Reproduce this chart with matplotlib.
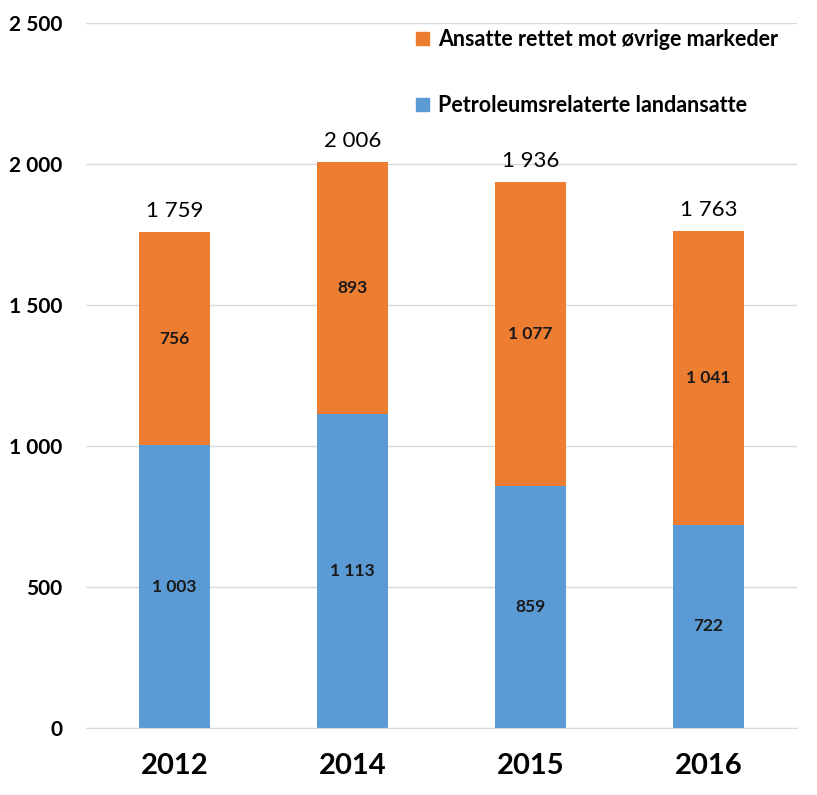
import matplotlib.pyplot as plt
from matplotlib.patches import Patch

# data
years = ["2012", "2014", "2015", "2016"]
petro = [1003, 1113, 859, 722]      # Petroleumsrelaterte landansatte
ovrige = [756, 893, 1077, 1041]     # Ansatte rettet mot øvrige markeder
totals = [1759, 2006, 1936, 1763]
yticks = [0, 500, 1000, 1500, 2000, 2500]

blue = "#5B9BD5"
orange = "#ED7D31"
fam = ["Liberation Sans Narrow", "Lato", "DejaVu Sans"]
plt.rcParams["font.family"] = fam


def fmt(v):
    return f"{v:,}".replace(",", " ")


fig = plt.figure(figsize=(8.17, 7.95), dpi=100)
ax = fig.add_axes([0.105, 0.084, 0.871, 0.887])

x = range(len(years))
ax.bar(x, petro, width=0.4, color=blue, zorder=2)
ax.bar(x, ovrige, width=0.4, bottom=petro, color=orange, zorder=2)

for i in x:
    ax.text(i, petro[i] / 2, fmt(petro[i]), ha="center", va="center",
            fontsize=12.5, fontweight="bold", color="#1a1a1a", zorder=3)
    ax.text(i, petro[i] + ovrige[i] / 2, fmt(ovrige[i]), ha="center", va="center",
            fontsize=12.5, fontweight="bold", color="#1a1a1a", zorder=3)
    ax.annotate(fmt(totals[i]), (i, totals[i]), xytext=(0, 8), textcoords="offset points",
                ha="center", va="bottom", fontsize=16, color="black")

ax.set_xlim(-0.5, 3.5)
ax.set_ylim(0, 2500)
ax.set_yticks(yticks)
ax.set_yticklabels([fmt(v) for v in yticks])
ax.set_xticks(list(x))
ax.set_xticklabels(years)
ax.tick_params(axis="y", length=0, pad=17, labelsize=15)
ax.tick_params(axis="x", length=0, pad=18, labelsize=21)
for lab in ax.get_yticklabels() + ax.get_xticklabels():
    lab.set_fontweight("bold")

ax.grid(axis="y", color="#D9D9D9", linewidth=1, zorder=0)
for s in ["top", "right", "left"]:
    ax.spines[s].set_visible(False)
ax.spines["bottom"].set_color("#D9D9D9")

handles = [Patch(color=orange, label="Ansatte rettet mot øvrige markeder"),
           Patch(color=blue, label="Petroleumsrelaterte landansatte")]
leg = ax.legend(handles=handles, loc="upper left", bbox_to_anchor=(0.437, 1.019),
                frameon=False, fontsize=15.5, labelspacing=2.1,
                handlelength=0.6, handleheight=0.6, handletextpad=0.4)
for t in leg.get_texts():
    t.set_fontweight("bold")

fig.savefig("out.png", dpi=100)
